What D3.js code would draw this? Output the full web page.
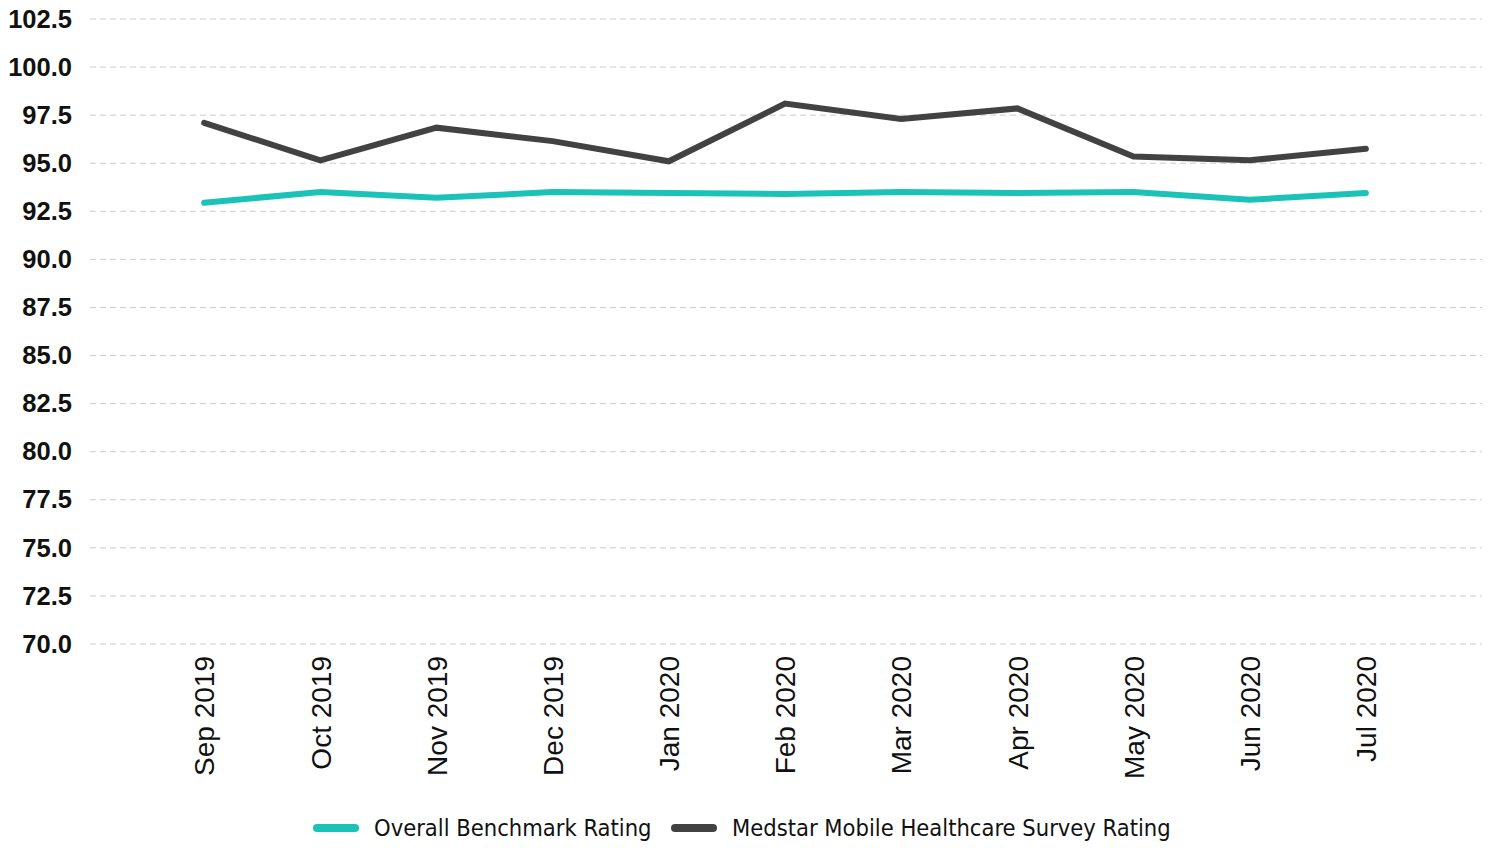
<!DOCTYPE html>
<html>
<head>
<meta charset="utf-8">
<script src="https://cdn.jsdelivr.net/npm/d3@7"></script>
<style>
  body { margin: 0; background: #fff; }
  svg text { font-family: "Liberation Sans", Arial, sans-serif; }
  .legend text { font-family: "DejaVu Sans Condensed", "DejaVu Sans", sans-serif; }
</style>
</head>
<body>
<svg></svg>
<script>
var months = ["Sep 2019", "Oct 2019", "Nov 2019", "Dec 2019", "Jan 2020", "Feb 2020",
              "Mar 2020", "Apr 2020", "May 2020", "Jun 2020", "Jul 2020"];
var benchmark = [92.95, 93.5, 93.2, 93.5, 93.45, 93.4, 93.5, 93.45, 93.5, 93.1, 93.45];
var medstar = [97.1, 95.15, 96.85, 96.15, 95.1, 98.1, 97.3, 97.85, 95.35, 95.15, 95.75];
var yTicks = [70, 72.5, 75, 77.5, 80, 82.5, 85, 87.5, 90, 92.5, 95, 97.5, 100, 102.5];
var series = [
  {name: "Overall Benchmark Rating", values: benchmark, color: "#1bc2b7"},
  {name: "Medstar Mobile Healthcare Survey Rating", values: medstar, color: "#424242"}
];

var screen = {width: 1491, height: 848};
var margins = {top: 19, right: 9, bottom: 204, left: 88};
var width = screen.width - margins.left - margins.right;
var height = screen.height - margins.top - margins.bottom;

var svg = d3.select("svg")
    .attr("width", screen.width)
    .attr("height", screen.height);

var g = svg.append("g")
    .attr("transform", "translate(" + margins.left + "," + margins.top + ")");

var xScale = d3.scalePoint()
    .domain(months)
    .range([0, width])
    .padding(1);

var yScale = d3.scaleLinear()
    .domain([70, 102.5])
    .range([height, 0]);

// grid + y labels
var yAxis = d3.axisLeft(yScale)
    .tickValues(yTicks)
    .tickFormat(d3.format(".1f"))
    .tickSize(0)
    .tickPadding(16);

g.append("g")
    .attr("class", "yaxis")
    .call(yAxis)
    .call(function(a){ a.select(".domain").remove(); })
    .selectAll("text")
    .attr("font-size", 25.5)
    .attr("font-weight", "bold")
    .attr("fill", "#111");

g.append("g")
    .selectAll("line")
    .data(yTicks)
    .enter()
    .append("line")
    .attr("x1", 2)
    .attr("x2", width)
    .attr("y1", function(d){ return yScale(d); })
    .attr("y2", function(d){ return yScale(d); })
    .attr("stroke", "#cccccc")
    .attr("stroke-width", 1)
    .attr("stroke-dasharray", "6,4");

// x labels
var xAxis = d3.axisBottom(xScale).tickSize(0);
g.append("g")
    .attr("transform", "translate(0," + height + ")")
    .call(xAxis)
    .call(function(a){ a.select(".domain").remove(); })
    .selectAll("text")
    .attr("font-size", 28)
    .attr("fill", "#111")
    .attr("text-anchor", "end")
    .attr("transform", "rotate(-90)")
    .attr("x", -12)
    .attr("y", 0)
    .attr("dy", "0.35em");

// lines
var line = d3.line()
    .x(function(d, i){ return xScale(months[i]); })
    .y(function(d){ return yScale(d); });

g.selectAll(".series")
    .data(series)
    .enter()
    .append("path")
    .attr("class", "series")
    .attr("fill", "none")
    .attr("stroke", function(s){ return s.color; })
    .attr("stroke-width", 6)
    .attr("stroke-linecap", "round")
    .attr("stroke-linejoin", "miter")
    .attr("d", function(s){ return line(s.values); });

// legend
var legend = svg.append("g").attr("class", "legend").attr("transform", "translate(0,828)");
var legendX = [317, 675];
var items = legend.selectAll("g")
    .data(series)
    .enter()
    .append("g")
    .attr("transform", function(s, i){ return "translate(" + legendX[i] + ",0)"; });

items.append("line")
    .attr("x1", 0)
    .attr("x2", 38)
    .attr("stroke", function(s){ return s.color; })
    .attr("stroke-width", 8)
    .attr("stroke-linecap", "round");

items.append("text")
    .attr("x", 57)
    .attr("dy", "0.35em")
    .attr("font-size", 23.5)
    .attr("fill", "#111")
    .text(function(s){ return s.name; });
</script>
</body>
</html>
